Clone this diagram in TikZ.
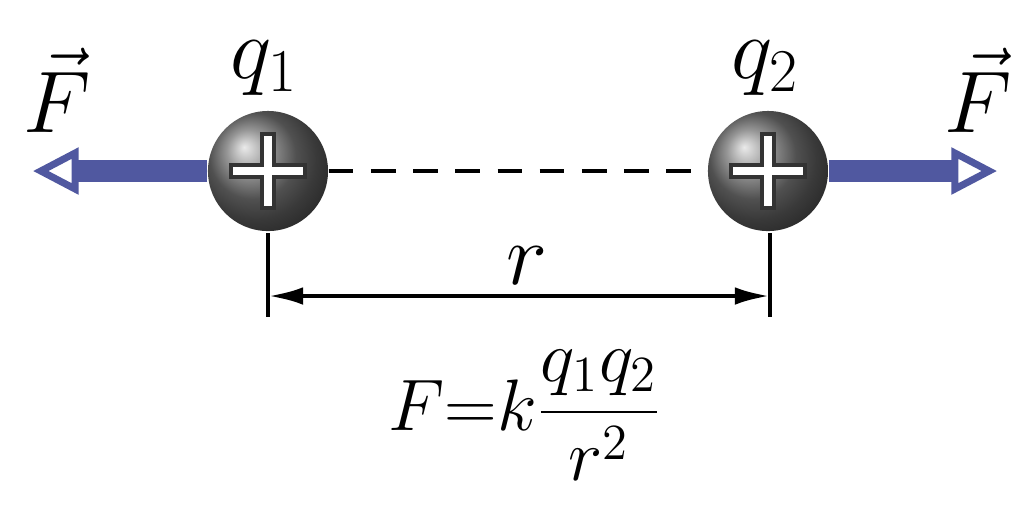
\documentclass[tikz,border=0pt]{standalone}
\usetikzlibrary{arrows.meta}
\begin{document}
\begin{tikzpicture}[x=0.01cm,y=-0.01cm,
  txt/.style={font=\fontsize{24}{28}\selectfont, inner sep=0},
  force/.style={line width=6pt, draw={rgb,255:red,80;green,88;blue,160}, -{Triangle[open,length=13pt,width=13pt,line width=2pt]}, shorten >=0pt},
  ball/.style={circle, minimum size=1.2cm, shading=ball, ball color=black!55, inner sep=0},
  plus/.style={fill=white, draw=black!80, line width=1.2pt}]
\useasboundingbox (0,0) rectangle (1024,517);
\node[ball] (q1) at (268,171) {};
\node[ball] (q2) at (768,171) {};
\foreach \c in {q1,q2}{
  \fill[plus] ([shift={(-6,-37)}]\c.center) -- ++(12,0) -- ++(0,31) -- ++(31,0) -- ++(0,12) -- ++(-31,0) -- ++(0,31) -- ++(-12,0) -- ++(0,-31) -- ++(-31,0) -- ++(0,-12) -- ++(31,0) -- cycle;
}
\coordinate (lt) at (33,171);
\coordinate (rt) at (997,171);
\draw[force] (q1.west) -- (lt);
\draw[force] (q2.east) -- (rt);
\draw[dashed, line width=1.2pt, dash pattern=on 7pt off 5pt] (q1.east) -- (q2.west);
\coordinate (a1) at (268,233); \coordinate (a2) at (268,317);
\coordinate (b1) at (770,233); \coordinate (b2) at (770,317);
\draw[line width=1.3pt] (a1) -- (a2);
\draw[line width=1.3pt] (b1) -- (b2);
\coordinate (d1) at (268,296); \coordinate (d2) at (770,296);
\draw[line width=1.3pt, {Latex[length=10pt,width=5pt]}-{Latex[length=10pt,width=5pt]}] (d1) -- (d2);
\node[txt] (r) at (527,266) {$r$};
\node[txt] (l1) at (264,68) {$q_1$};
\node[txt] (l2) at (765,68) {$q_2$};
\node[txt] (f1) at (57,90) {$\vec{F}$};
\node[txt] (f2) at (978,90) {$\vec{F}$};
\node[txt,font=\fontsize{22}{26}\selectfont] (eq) at (525,415) {$F{=}k\displaystyle\frac{q_1q_2}{r^2}$};
\end{tikzpicture}
\end{document}
